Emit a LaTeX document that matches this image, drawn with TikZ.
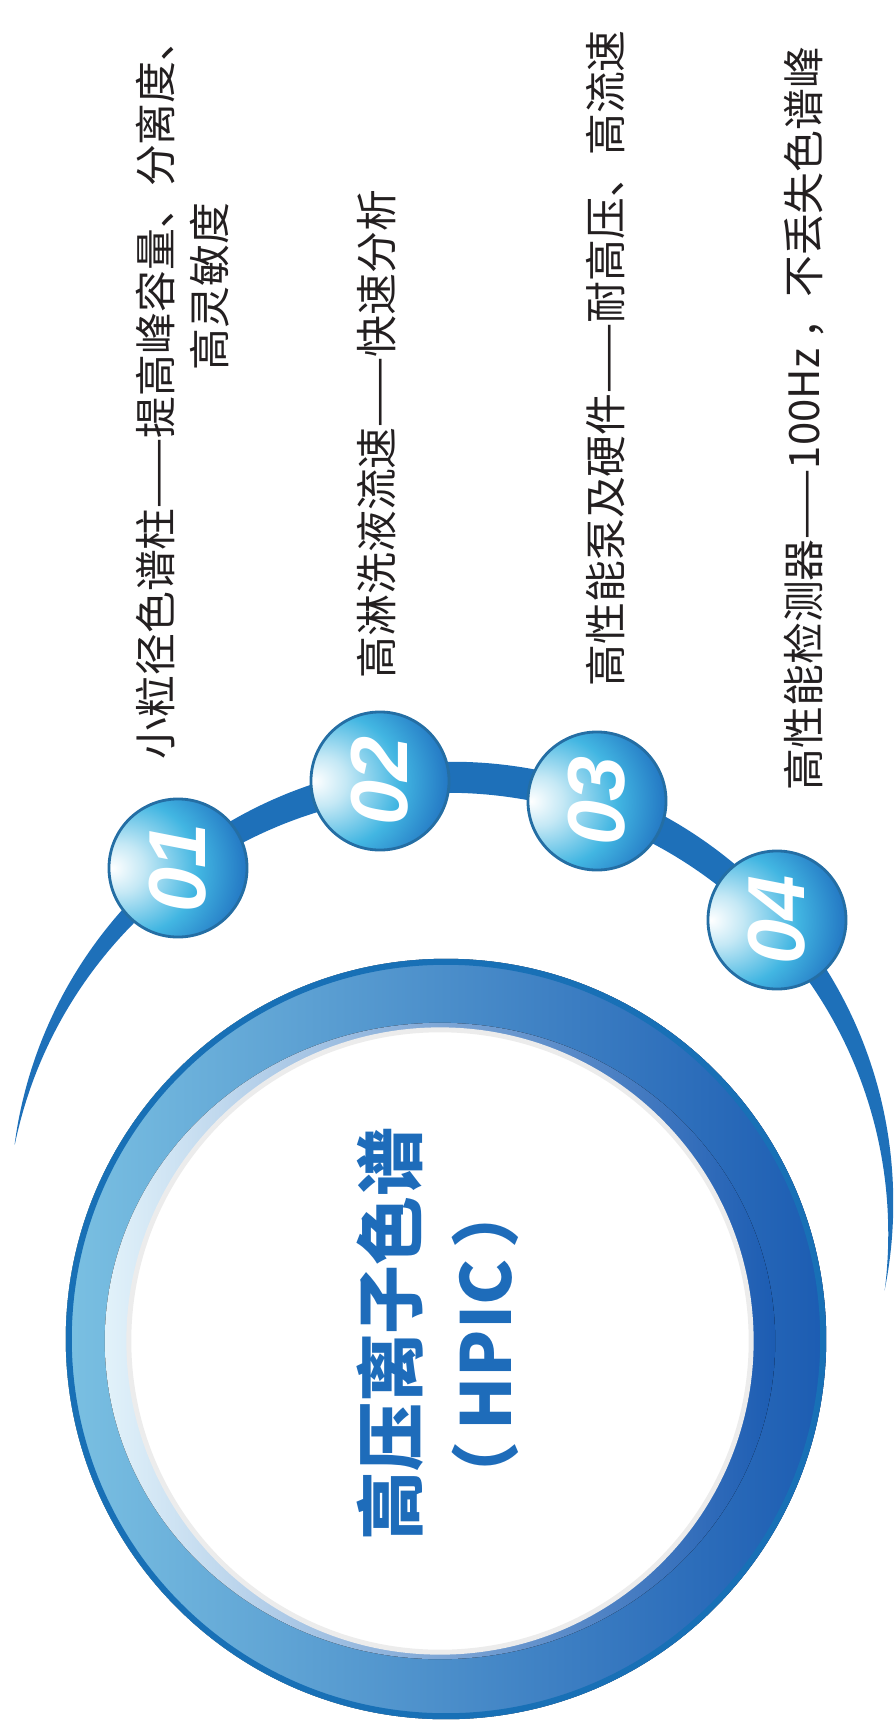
\documentclass[tikz,border=0pt]{standalone}
\usepackage{fontspec}
\usepackage{xcolor}
\usepackage{tikz}
\setmainfont{Liberation Sans}
\newfontfamily\cjk{Noto Sans CJK SC}
\newfontfamily\numfont{Liberation Sans}
\definecolor{arcblue}{RGB}{30,112,185}
\definecolor{captext}{RGB}{35,31,32}
\definecolor{titleblue}{RGB}{30,108,186}
\definecolor{ringpale}{RGB}{122,192,226}
\definecolor{ringmid}{RGB}{58,152,208}
\definecolor{ringdeep}{RGB}{28,92,178}
\definecolor{ringrim}{RGB}{24,112,182}
\definecolor{ringglow}{RGB}{226,242,250}
\definecolor{ringshadow}{RGB}{236,236,236}
\definecolor{badgepale}{RGB}{196,232,245}
\definecolor{badgecyan}{RGB}{66,182,226}
\definecolor{badgeblue}{RGB}{30,108,190}
\definecolor{badgedeep}{RGB}{20,72,160}
\definecolor{badgerim}{RGB}{36,110,164}
\pgfdeclareradialshading{badgeball}{\pgfpoint{-24bp}{0bp}}{color(0bp)=(white); color(9bp)=(badgepale); color(24bp)=(badgecyan); color(40bp)=(badgeblue); color(58bp)=(badgedeep); color(80bp)=(badgedeep)}

\begin{document}
\begin{tikzpicture}[x=0.01cm, y=-0.01cm,
    badge/.style={circle, minimum size=1.38cm, inner sep=0pt, shading=badgeball,
      draw=badgerim, line width=0.8pt, text=white,
      font=\numfont\fontsize{23}{23}\selectfont\bfseries\itshape},
    caption/.style={rotate=90, anchor=west, inner sep=0pt, text=captext,
      font=\cjk\fontsize{11.9}{14}\selectfont},
    heading/.style={rotate=90, inner sep=0pt, text=titleblue,
      font=\cjk\bfseries\fontsize{19.6}{22}\selectfont}]
  \useasboundingbox (0,0) rectangle (893,1733);

  \begin{scope}
    \clip (0,0) -- (893,0) -- (893,1292) -- (0,1142) -- cycle;
    \fill[arcblue, even odd rule] (452,1203) circle (4.41cm) (447,1234) circle (4.41cm);
  \end{scope}

  \node[badge] (b1) at (178,868) {\rotatebox{90}{01}};
  \node[badge] (b2) at (380,781) {\rotatebox{90}{02}};
  \node[badge] (b3) at (597,801) {\rotatebox{90}{03}};
  \node[badge] (b4) at (777,920) {\rotatebox{90}{04}};

  \node[caption] (c1) at (156,760) {小粒径色谱柱——提高峰容量、分离度、};
  \node[caption] (c1b) at (210,371) {高灵敏度};
  \node[caption] (c2) at (377,679) {高淋洗液流速——快速分析};
  \node[caption] (c3) at (606,687) {高性能泵及硬件——耐高压、高流速};
  \node[caption] (c4) at (804,791) {高性能检测器——100Hz ，不丢失色谱峰};

  \fill[left color=ringpale, middle color=ringmid, right color=ringdeep] (446,1339) circle (3.80cm);
  \draw[ringrim, line width=1.7pt] (446,1339) circle (3.77cm);
  \fill[left color=ringglow, right color=ringdeep] (440,1341) ellipse (3.35cm and 3.18cm);
  \fill[white] (440,1341) circle (3.12cm);
  \draw[ringshadow, line width=1.4pt] (440,1341) circle (3.11cm);

  \node[heading] (head) at (390,1334) {高压离子色谱};
  \node[heading] (abbr) at (485,1345) {（\,HPIC\,）};
\end{tikzpicture}
\end{document}
